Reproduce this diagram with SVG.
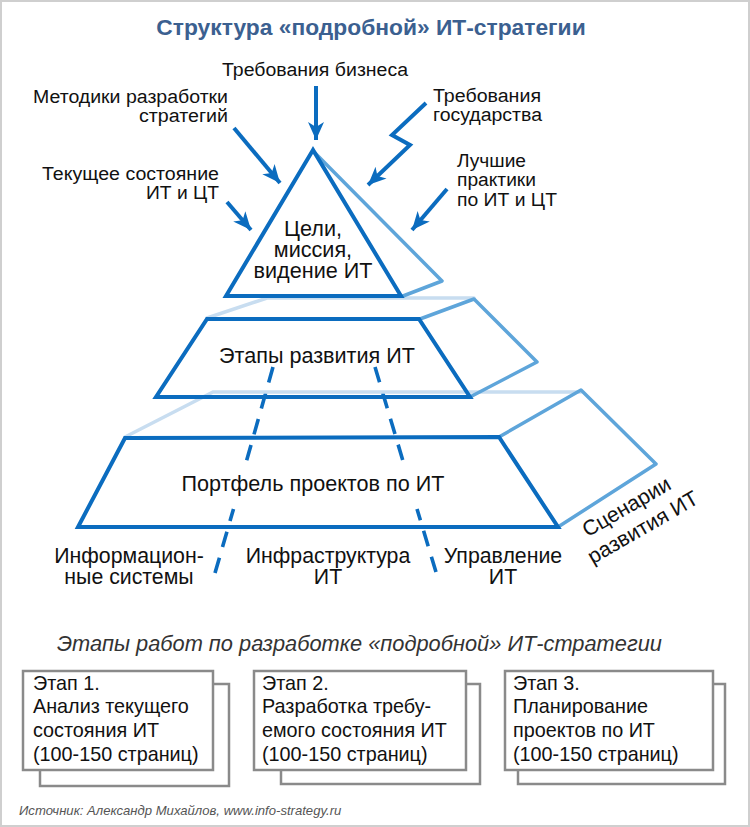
<svg xmlns="http://www.w3.org/2000/svg" width="750" height="827" viewBox="0 0 750 827">
<defs>
<marker id="ah" markerUnits="userSpaceOnUse" markerWidth="20" markerHeight="20" viewBox="0 0 20 20" refX="18" refY="10" orient="auto">
<path d="M0,2 L18,10 L0,18 L5,10 Z" fill="#0b6cbf"/>
</marker>
</defs>
<style>
text{font-family:"Liberation Sans",Arial,sans-serif;fill:#111;font-size:18px}
.t{font-size:22.8px;font-weight:bold;fill:#3b6090}
.big{font-size:21.6px}
.lab{font-size:21.3px}
.bx{font-size:19.8px}
.it{font-style:italic;fill:#333;font-size:21.8px}
.src{font-style:italic;fill:#555;font-size:13.1px}
.m{text-anchor:middle}
.e{text-anchor:end}
.dark{fill:none;stroke:#0b6cbf;stroke-width:4;stroke-linejoin:miter}
.back{fill:none;stroke:#5ea5da;stroke-width:3.5;stroke-linejoin:round;stroke-linecap:round}
.faint{fill:none;stroke:#c8ddf0;stroke-width:3.5;stroke-linecap:round}
.arr{fill:none;stroke:#0b6cbf;stroke-width:4;marker-end:url(#ah)}
.dash{fill:none;stroke:#0b6cbf;stroke-width:3.6;stroke-dasharray:16 11}
.box{fill:#fff;stroke:#8a8a8a;stroke-width:2.5}
</style>
<rect x="1" y="1" width="748" height="825" fill="#fff" stroke="#cfcfcf" stroke-width="2"/>
<text class="t m" x="371" y="35">Структура «подробной» ИТ-стратегии</text>

<g id="connectors">
<path class="arr" d="M316,86 L316,140"/>
<path class="arr" d="M234,128 L280,183"/>
<path class="arr" d="M227,202 L251,230"/>
<path class="arr" d="M426,103 L392,135 L410,145 L368,185"/>
<path class="arr" d="M447,189 L412,230"/>
<path class="dash" d="M273,367 L246.5,461"/>
<path class="dash" d="M215,573 L233.5,509"/>
<path class="dash" d="M375,367 L403,461"/>
<path class="dash" d="M436,572 L417,509"/>
</g>

<g id="labels">
<text class="m" x="315" y="76" textLength="186" lengthAdjust="spacingAndGlyphs">Требования бизнеса</text>
<text class="e" x="228" y="103" textLength="195" lengthAdjust="spacingAndGlyphs">Методики разработки</text>
<text class="e" x="228" y="122" textLength="89" lengthAdjust="spacingAndGlyphs">стратегий</text>
<text x="433" y="102" textLength="108" lengthAdjust="spacingAndGlyphs">Требования</text>
<text x="433" y="121" textLength="109" lengthAdjust="spacingAndGlyphs">государства</text>
<text class="e" x="219" y="180" textLength="177" lengthAdjust="spacingAndGlyphs">Текущее состояние</text>
<text class="e" x="219" y="199" textLength="73" lengthAdjust="spacingAndGlyphs">ИТ и ЦТ</text>
<text x="457" y="167" textLength="69" lengthAdjust="spacingAndGlyphs">Лучшие</text>
<text x="457" y="186" textLength="79" lengthAdjust="spacingAndGlyphs">практики</text>
<text x="457" y="206" textLength="100" lengthAdjust="spacingAndGlyphs">по ИТ и ЦТ</text>
</g>

<g id="level-goals">
<path class="faint" d="M207,318 L267,298 L474,298"/>
<path class="back" d="M314,152 L442,281 L403,296"/>
<path class="dark" d="M313,150 L226,296 L401,296 Z"/>
<text class="big m" x="313" y="236">Цели,</text>
<text class="big m" x="313" y="257">миссия,</text>
<text class="big m" x="313" y="278">видение ИТ</text>
</g>

<g id="level-stages">
<path class="faint" d="M125,437 L213,392 L581,392"/>
<path class="back" d="M420,319 L474,299 L537,362 L470,397"/>
<path class="dark" d="M207,319 L419,319 L470,397 L156,397 Z"/>
<text class="big m" x="317" y="363">Этапы развития ИТ</text>
</g>

<g id="level-portfolio">
<path class="back" d="M499,437 L581,390 L656,464 L558,527"/>
<path class="dark" d="M125,438 L499,437 L558,527 L78,527 Z"/>
<text class="big m" x="313" y="491">Портфель проектов по ИТ</text>
</g>

<g id="bottom-labels">
<text class="lab m" x="129" y="563">Информацион-</text>
<text class="lab m" x="129" y="584">ные системы</text>
<text class="lab m" x="328" y="563">Инфраструктура</text>
<text class="lab m" x="328" y="584">ИТ</text>
<text class="lab m" x="503" y="563">Управление</text>
<text class="lab m" x="503" y="584">ИТ</text>
<g transform="translate(630,513) rotate(-30)">
<text class="lab m" x="0" y="0">Сценарии</text>
<text class="lab m" x="4" y="26">развития ИТ</text>
</g>
</g>

<text class="it" x="57" y="651">Этапы работ по разработке «подробной» ИТ-стратегии</text>

<g id="stage1">
<rect class="box" x="40" y="684" width="189" height="102"/>
<rect class="box" x="23" y="671" width="190" height="99"/>
<text class="bx" x="33" y="690">Этап 1.</text>
<text class="bx" x="33" y="713">Анализ текущего</text>
<text class="bx" x="33" y="737">состояния ИТ</text>
<text class="bx" x="33" y="761">(100-150 страниц)</text>
</g>
<g id="stage2">
<rect class="box" x="281" y="684" width="199" height="100"/>
<rect class="box" x="254" y="671" width="212" height="99"/>
<text class="bx" x="262" y="690">Этап 2.</text>
<text class="bx" x="262" y="713">Разработка требу-</text>
<text class="bx" x="262" y="737">емого состояния ИТ</text>
<text class="bx" x="262" y="761">(100-150 страниц)</text>
</g>
<g id="stage3">
<rect class="box" x="518" y="684" width="207" height="100"/>
<rect class="box" x="505" y="671" width="208" height="99"/>
<text class="bx" x="513" y="690">Этап 3.</text>
<text class="bx" x="513" y="713">Планирование</text>
<text class="bx" x="513" y="737">проектов по ИТ</text>
<text class="bx" x="513" y="761">(100-150 страниц)</text>
</g>

<text class="src" x="19" y="815">Источник: Александр Михайлов, www.info-strategy.ru</text>
</svg>
